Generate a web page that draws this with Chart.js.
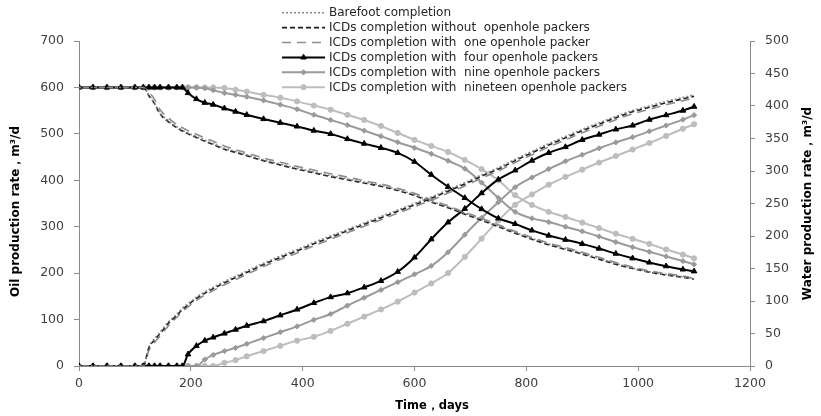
<!DOCTYPE html>
<html>
<head>
<meta charset="utf-8">
<script src="https://cdn.jsdelivr.net/npm/chart.js@4/dist/chart.umd.min.js"></script>
<style>
html,body{margin:0;padding:0;background:#fff;}
canvas{display:block;}
</style>
</head>
<body>
<canvas id="c" width="821" height="416"></canvas>
<script>
// ---- data (days; oil on left axis m3/d, water on right axis m3/d) ----
const days = [0,25,50,75,100,115,125,135,145,160,175,185,195,210,225,240,260,280,300,330,360,390,420,450,480,510,540,570,600,630,660,690,720,750,780,810,840,870,900,930,960,990,1020,1050,1080,1100];

const barefootOil = [600,600,600,600,600,600,584,566,545,528,515,508,502,494,486,479,469,462,455,444,435,426,418,410,403,396,389,380,369,355,343,329,316,302,288,275,263,253,243,232,221,211,203,197,192,188];
const barefootWater = [0,0,0,0,0,0,30,42,52,68,80,89,96,106,114,121,130,138,146,158,169,179,190,200,210,220,230,240,250,260,271,282,294,305,318,330,342,353,364,374,384,393,400,407,413,417];

const withoutOil = [600,600,600,600,600,600,582,565,543,526,513,506,500,492,484,477,467,460,453,442,433,424,416,408,401,394,387,378,367,353,341,327,314,300,286,273,261,251,241,230,219,210,202,196,191,187];
const withoutWater = [0,0,0,0,0,0,28,40,50,66,78,87,94,104,112,119,128,136,144,156,167,177,188,198,208,218,228,238,248,258,269,280,292,303,316,328,340,351,362,372,382,391,398,405,411,415];

const oneOil = [600,600,600,600,600,600,590,574,552,534,520,513,507,499,491,484,474,466,459,448,439,430,422,414,407,399,392,383,372,358,345,331,318,304,290,277,265,255,245,234,223,213,205,199,194,189];
const oneWater = [0,0,0,0,0,0,24,36,46,62,75,84,91,101,109,116,125,133,141,153,164,174,185,195,205,215,225,235,245,255,266,277,289,300,313,325,337,348,359,369,379,388,395,402,408,412];

const fourOil = [600,600,600,600,600,600,600,600,600,600,600,600,588,575,567,563,555,548,541,532,524,516,507,500,489,479,470,459,440,412,386,362,338,318,306,292,281,272,263,253,242,232,223,215,208,204];
const fourWater = [0,0,0,0,0,0,0,0,0,0,0,0,18,31,39,44,50,56,62,69,78,87,97,106,112,121,131,145,167,195,221,242,266,287,301,316,328,337,348,356,364,370,379,386,393,399];

const nineOil = [600,600,600,600,600,600,600,600,600,600,600,600,600,600,598,594,588,584,580,572,563,553,541,530,519,507,495,482,470,457,442,425,395,362,332,318,310,300,290,279,267,256,246,236,226,219];
const nineWater = [0,0,0,0,0,0,0,0,0,0,0,0,0,0,10,17,23,28,34,43,52,61,71,80,93,105,117,129,141,154,175,202,228,252,275,290,303,315,325,335,344,352,361,370,379,386];

const nineteenOil = [600,600,600,600,600,600,600,600,600,600,600,600,600,600,600,600,599,595,591,584,578,570,561,552,541,530,517,502,487,474,461,444,424,400,368,347,332,321,309,297,285,274,263,251,240,232];
const nineteenWater = [0,0,0,0,0,0,0,0,0,0,0,0,0,0,0,0,5,9,15,23,31,39,45,54,65,76,87,99,113,127,143,168,196,224,248,264,279,291,302,313,323,333,343,354,365,372];

const seriesNames = [
  'Barefoot completion',
  'ICDs completion without  openhole packers',
  'ICDs completion with  one openhole packer',
  'ICDs completion with  four openhole packers',
  'ICDs completion with  nine openhole packers',
  'ICDs completion with  nineteen openhole packers'
];
const xTicks = [0,200,400,600,800,1000,1200];
const oilTicks = [0,100,200,300,400,500,600,700];
const waterTicks = [0,50,100,150,200,250,300,350,400,450,500];

// ---- styles ----
const styles = [
  {color:'#858585', width:1.6, dash:[2,2], point:false},
  {color:'#1e1e1e', width:1.6, dash:[5,3], point:false},
  {color:'#8e8e8e', width:1.6, dash:[9,6], point:false},
  {color:'#000000', width:2, dash:[], point:'triangle', r:3.2},
  {color:'#9a9a9a', width:2, dash:[], point:'rectRot', r:2.6},
  {color:'#bdbdbd', width:2, dash:[], point:'circle', r:2.6}
];
const oilSeries = [barefootOil, withoutOil, oneOil, fourOil, nineOil, nineteenOil];
const waterSeries = [barefootWater, withoutWater, oneWater, fourWater, nineWater, nineteenWater];

function mk(vals, i, axis) {
  const s = styles[i];
  return {
    label: seriesNames[i],
    data: days.map((d, k) => ({x: d, y: vals[k]})),
    yAxisID: axis,
    borderColor: s.color,
    backgroundColor: s.color,
    borderWidth: s.width,
    borderDash: s.dash,
    pointStyle: s.point || 'circle',
    pointRadius: s.point ? s.r : 0,
    pointBorderWidth: 1,
    pointBackgroundColor: s.color,
    pointBorderColor: s.color,
    cubicInterpolationMode: 'monotone',
    fill: false
  };
}
const datasets = [];
for (let i = 0; i < 6; i++) {
  datasets.push(mk(oilSeries[i], i, 'y'));
  datasets.push(mk(waterSeries[i], i, 'y1'));
}

const FONT = '"DejaVu Sans", sans-serif';

const overlay = {
  id: 'overlay',
  afterDraw(chart) {
    const ctx = chart.ctx;
    // legend
    for (let i = 0; i < 6; i++) {
      const s = styles[i];
      const y = 12.7 + i * 14.9;
      ctx.save();
      ctx.strokeStyle = s.color;
      ctx.lineWidth = s.width;
      ctx.setLineDash(s.dash);
      ctx.beginPath();
      ctx.moveTo(282, y); ctx.lineTo(325, y);
      ctx.stroke();
      ctx.setLineDash([]);
      if (s.point) {
        ctx.fillStyle = s.color;
        ctx.strokeStyle = s.color;
        ctx.lineWidth = 1;
        Chart.helpers.drawPoint(ctx, {pointStyle: s.point, radius: s.r, borderWidth: 1}, 303.5, y);
      }
      ctx.fillStyle = '#262626';
      ctx.font = '12px ' + FONT;
      ctx.textBaseline = 'middle';
      ctx.textAlign = 'left';
      ctx.fillText(seriesNames[i], 329, y + 0.5);
      ctx.restore();
    }
    const ca = chart.chartArea;
    const midY = (ca.top + ca.bottom) / 2;
    ctx.save();
    ctx.fillStyle = '#000';
    ctx.textAlign = 'center';
    ctx.textBaseline = 'middle';
    ctx.font = 'bold 11.5px ' + FONT;
    // x title
    ctx.fillText('Time，days', 432, 406);
    ctx.font = 'bold 12px ' + FONT;
    // left title
    ctx.save();
    ctx.translate(16, midY + 8);
    ctx.rotate(-Math.PI / 2);
    ctx.fillText('Oil production rate，m³/d', 0, 0);
    ctx.restore();
    // right title
    ctx.save();
    ctx.translate(808, midY);
    ctx.rotate(-Math.PI / 2);
    ctx.fillText('Water production rate，m³/d', 0, 0);
    ctx.restore();
    ctx.restore();
  }
};

const tickFont = {family: FONT, size: 12.5};
const gridOpts = {display: true, drawOnChartArea: false, drawTicks: true, tickLength: 5, color: '#8a8a8a', lineWidth: 1};
const borderOpts = {display: true, color: '#8a8a8a', width: 1};
const plain = v => String(v);

new Chart(document.getElementById('c'), {
  type: 'line',
  data: {datasets},
  options: {
    responsive: false,
    animation: false,
    devicePixelRatio: 1,
    layout: {padding: {top: 41, left: 0, right: 0, bottom: 0}},
    plugins: {legend: {display: false}, tooltip: {enabled: false}},
    scales: {
      x: {
        type: 'linear', min: 0, max: 1200,
        afterBuildTicks: s => { s.ticks = xTicks.map(v => ({value: v})); },
        ticks: {font: tickFont, color: '#404040', padding: 5, maxRotation: 0, callback: plain},
        grid: gridOpts, border: borderOpts,
        afterFit: s => { s.height = 50; }
      },
      y: {
        type: 'linear', position: 'left', min: 0, max: 700,
        afterBuildTicks: s => { s.ticks = oilTicks.map(v => ({value: v})); },
        ticks: {font: tickFont, color: '#404040', padding: 10, callback: plain},
        grid: gridOpts, border: borderOpts,
        afterFit: s => { s.width = 79; }
      },
      y1: {
        type: 'linear', position: 'right', min: 0, max: 500,
        afterBuildTicks: s => { s.ticks = waterTicks.map(v => ({value: v})); },
        ticks: {font: tickFont, color: '#404040', padding: 10, callback: plain},
        grid: gridOpts, border: borderOpts,
        afterFit: s => { s.width = 71; }
      }
    }
  },
  plugins: [overlay]
});
</script>
</body>
</html>
